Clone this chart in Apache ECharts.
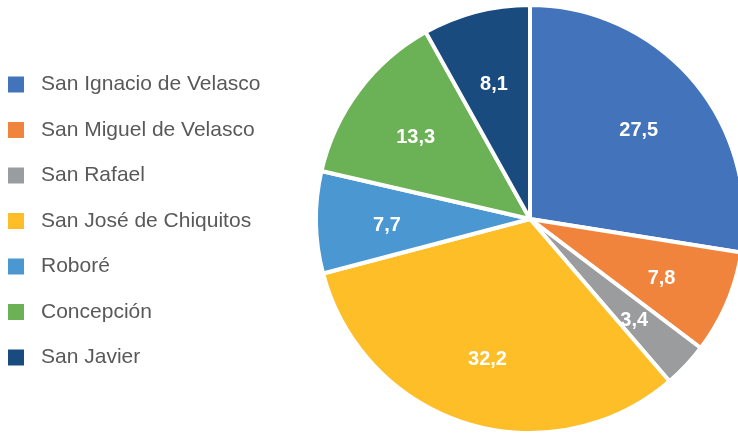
<!DOCTYPE html>
<html>
<head>
<meta charset="utf-8">
<script src="https://cdn.jsdelivr.net/npm/echarts@6/dist/echarts.min.js"></script>
<style>
  html, body { margin: 0; padding: 0; background: #fff; }
  #chart { width: 738px; height: 435px; }
</style>
</head>
<body>
<div id="chart"></div>
<script>
// Municipios, porcentajes (sentido horario desde arriba)
const municipios = ['San Ignacio de Velasco', 'San Miguel de Velasco', 'San Rafael',
  'San José de Chiquitos', 'Roboré', 'Concepción', 'San Javier'];
const porcentajes = [27.5, 7.8, 3.4, 32.2, 7.7, 13.3, 8.1];
const colores = ['#4273BB', '#F1843C', '#9A9C9D', '#FDBE28', '#4A97D2', '#6BB155', '#1A4B7F'];

const chart = echarts.init(document.getElementById('chart'));

const datos = municipios.map((name, i) => ({
  name: name,
  value: porcentajes[i],
  itemStyle: { color: colores[i] }
}));

const fmt = p => String(p.value.toFixed(1)).replace('.', ',');

chart.setOption({
  animation: false,
  legend: {
    orient: 'vertical',
    left: 8,
    top: 74,
    padding: 0,
    itemWidth: 16,
    itemHeight: 16,
    itemGap: 24.5,
    icon: 'rect',
    selectedMode: false,
    data: municipios,
    itemStyle: { borderWidth: 0 },
    textStyle: {
      fontFamily: 'Liberation Sans, Arial, sans-serif',
      fontSize: 21,
      color: '#595959',
      padding: [0, 0, 0, 12]
    }
  },
  series: [
    {
      type: 'pie',
      center: [530, 219],
      radius: 214,
      startAngle: 90,
      clockwise: true,
      silent: true,
      label: { show: false },
      labelLine: { show: false },
      itemStyle: { borderColor: '#fff', borderWidth: 4 },
      data: datos
    },
    {
      // capa transparente solo para ubicar las etiquetas
      type: 'pie',
      center: [530, 219],
      radius: 280,
      startAngle: 90,
      clockwise: true,
      silent: true,
      itemStyle: { color: 'rgba(0,0,0,0)' },
      label: {
        show: true,
        position: 'inside',
        formatter: fmt,
        color: '#fff',
        fontFamily: 'Liberation Sans, Arial, sans-serif',
        fontWeight: 'bold',
        fontSize: 20,
        offset: [0, 4]
      },
      labelLine: { show: false },
      data: municipios.map((name, i) => ({ name: name, value: porcentajes[i] }))
    }
  ]
});
</script>
</body>
</html>
